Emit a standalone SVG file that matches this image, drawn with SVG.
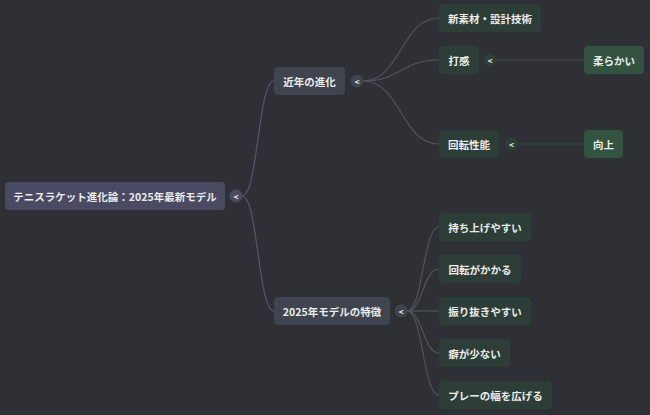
<svg xmlns="http://www.w3.org/2000/svg" width="650" height="415" viewBox="0 0 650 415">
<style>
text{font-family:"Noto Sans CJK JP","Noto Sans",sans-serif;font-size:10.5px;font-weight:600;fill:#ececec;dominant-baseline:central}
.root rect{fill:#4b4a63}
.l1 rect{fill:#3f444e}
.l2 rect{fill:#2c3e37}
.l3 rect{fill:#31533f}
.c0{fill:#4b4a63}
.c1{fill:#3f444e}
.c2{fill:#2c3e37}
.tog{font-size:8px;font-weight:700;text-anchor:middle}
.e0{fill:none;stroke:#575670;stroke-width:1.2}
.e1{fill:none;stroke:#50555e;stroke-width:1.2}
.e2{fill:none;stroke:#34443e;stroke-width:1.2}
</style>
<rect width="650" height="415" fill="#2f3035"/>
<g id="connectors">
<path class="e0" d="M242 196 C258 196 258 81 274 81"/>
<path class="e0" d="M242 196 C258 196 258 311 274 311"/>
<path class="e1" d="M363 81 C401 81 401 18 439 18"/>
<path class="e1" d="M363 81 C401 81 401 60 439 60"/>
<path class="e1" d="M363 81 C401 81 401 144 439 144"/>
<path class="e1" d="M407 311 C423 311 423 227 439 227"/>
<path class="e1" d="M407 311 C423 311 423 269 439 269"/>
<path class="e1" d="M407 311 L439 311"/>
<path class="e1" d="M407 311 C423 311 423 353 439 353"/>
<path class="e1" d="M407 311 C423 311 423 395 439 395"/>
<path class="e2" d="M496 60 L584 60"/>
<path class="e2" d="M518 144 L584 144"/>
</g>
<g id="root" class="root">
<rect x="5" y="182" width="220" height="28" rx="4"/>
<text x="115" y="196" text-anchor="middle">テニスラケット進化論：2025年最新モデル</text>
<circle class="c0" cx="236" cy="196" r="6.5"/>
<text class="tog" x="236" y="196">&lt;</text>
</g>
<g id="n-kinnen" class="l1">
<rect x="274" y="67" width="71" height="28" rx="4"/>
<text x="309.5" y="81" text-anchor="middle">近年の進化</text>
<circle class="c1" cx="357" cy="81" r="6.5"/>
<text class="tog" x="357" y="81">&lt;</text>
</g>
<g id="n-2025" class="l1">
<rect x="274" y="297" width="116" height="28" rx="4"/>
<text x="332" y="311" text-anchor="middle">2025年モデルの特徴</text>
<circle class="c1" cx="401" cy="311" r="6.5"/>
<text class="tog" x="401" y="311">&lt;</text>
</g>
<g id="n-sozai" class="l2">
<rect x="439" y="4" width="102" height="28" rx="4"/>
<text x="490" y="18" text-anchor="middle">新素材・設計技術</text>
</g>
<g id="n-dakan" class="l2">
<rect x="439" y="46" width="40" height="28" rx="4"/>
<text x="459" y="60" text-anchor="middle">打感</text>
<circle class="c2" cx="490" cy="60" r="6.5"/>
<text class="tog" x="490" y="60">&lt;</text>
</g>
<g id="n-yawaraka" class="l3">
<rect x="584" y="46" width="60" height="28" rx="4"/>
<text x="614" y="60" text-anchor="middle">柔らかい</text>
</g>
<g id="n-kaiten" class="l2">
<rect x="439" y="130" width="60" height="28" rx="4"/>
<text x="469" y="144" text-anchor="middle">回転性能</text>
<circle class="c2" cx="511.5" cy="144" r="6.5"/>
<text class="tog" x="511.5" y="144">&lt;</text>
</g>
<g id="n-kojo" class="l3">
<rect x="584" y="130" width="39" height="28" rx="4"/>
<text x="603.5" y="144" text-anchor="middle">向上</text>
</g>
<g id="n-mochiage" class="l2">
<rect x="439" y="213" width="92" height="28" rx="4"/>
<text x="485" y="227" text-anchor="middle">持ち上げやすい</text>
</g>
<g id="n-kaitengakakaru" class="l2">
<rect x="439" y="255" width="82" height="28" rx="4"/>
<text x="480" y="269" text-anchor="middle">回転がかかる</text>
</g>
<g id="n-furinuki" class="l2">
<rect x="439" y="297" width="92" height="28" rx="4"/>
<text x="485" y="311" text-anchor="middle">振り抜きやすい</text>
</g>
<g id="n-kuse" class="l2">
<rect x="439" y="339" width="71" height="28" rx="4"/>
<text x="474.5" y="353" text-anchor="middle">癖が少ない</text>
</g>
<g id="n-play" class="l2">
<rect x="439" y="381" width="113" height="28" rx="4"/>
<text x="495.5" y="395" text-anchor="middle">プレーの幅を広げる</text>
</g>
</svg>
